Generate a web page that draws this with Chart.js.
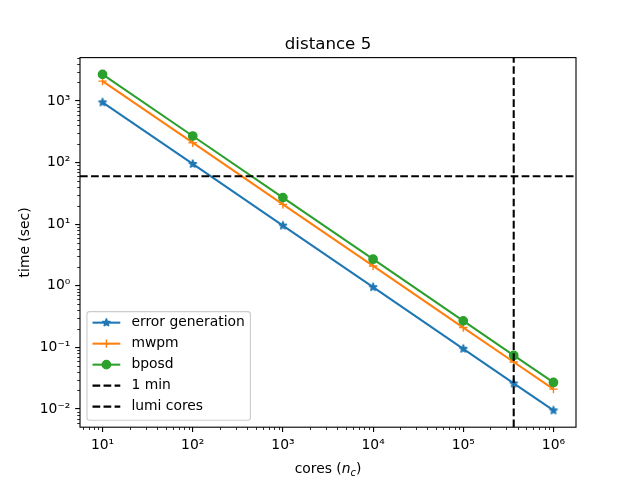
<!DOCTYPE html>
<html lang="en">
<head>
<meta charset="UTF-8">
<title>distance 5</title>
<script src="https://cdn.jsdelivr.net/npm/chart.js"></script>
<style>
  body { margin: 0; background: #ffffff; }
  canvas { display: block; }
</style>
</head>
<body>
<canvas id="timing" width="640" height="480"></canvas>
<script>
// values
const cores = [10, 100, 1000, 10000, 100000, 362496, 1000000];
const errorGeneration = [950, 95, 9.5, 0.95, 0.095, 0.026, 0.0095];
const mwpm = [2100, 210, 21, 2.1, 0.21, 0.058, 0.021];
const bposd = [2700, 270, 27, 2.7, 0.27, 0.074, 0.027];
const oneMinute = 60;
const lumiCores = 362496;
const xTicks = [1e1, 1e2, 1e3, 1e4, 1e5, 1e6];
const yTicks = [1e-2, 1e-1, 1e0, 1e1, 1e2, 1e3];

const BLUE = '#1f77b4', ORANGE = '#ff7f0e', GREEN = '#2ca02c';
const FONT = 'DejaVu Sans';
const PT = 100 / 72;

// matplotlib style 5% margins in log space
function logLimits(values) {
  const lo = Math.log10(Math.min(...values));
  const hi = Math.log10(Math.max(...values));
  const pad = 0.05 * (hi - lo);
  return [Math.pow(10, lo - pad), Math.pow(10, hi + pad)];
}
const [X_MIN, X_MAX] = logLimits(cores);
const [Y_MIN, Y_MAX] = logLimits(errorGeneration.concat(mwpm, bposd));

const SUP = { '-': '\u207b', '0': '\u2070', '1': '\u00b9', '2': '\u00b2', '3': '\u00b3',
  '4': '\u2074', '5': '\u2075', '6': '\u2076', '7': '\u2077', '8': '\u2078', '9': '\u2079' };
function powerLabel(v) {
  const e = Math.round(Math.log10(v));
  return '10' + String(e).split('').map(c => SUP[c]).join('');
}

function starPath(ctx, x, y, r) {
  const inner = r * 0.381966;
  ctx.beginPath();
  for (let i = 0; i < 10; i++) {
    const rr = i % 2 === 0 ? r : inner;
    const a = -Math.PI / 2 + i * Math.PI / 5;
    const px = x + rr * Math.cos(a), py = y + rr * Math.sin(a);
    if (i === 0) ctx.moveTo(px, py); else ctx.lineTo(px, py);
  }
  ctx.closePath();
}

function drawMarker(ctx, kind, x, y, color) {
  const r = 3 * PT;
  ctx.save();
  ctx.fillStyle = color;
  ctx.strokeStyle = color;
  ctx.lineWidth = PT;
  if (kind === 'star') {
    ctx.lineJoin = 'bevel';
    starPath(ctx, x, y, r);
    ctx.fill();
    ctx.stroke();
  } else if (kind === 'cross') {
    ctx.beginPath();
    ctx.moveTo(x - r, y); ctx.lineTo(x + r, y);
    ctx.moveTo(x, y - r); ctx.lineTo(x, y + r);
    ctx.stroke();
  } else if (kind === 'circle') {
    ctx.beginPath();
    ctx.arc(x, y, r, 0, Math.PI * 2);
    ctx.fill();
    ctx.stroke();
  }
  ctx.restore();
}

// filled star used as point style
const starImg = document.createElement('canvas');
starImg.width = 14;
starImg.height = 14;
drawMarker(starImg.getContext('2d'), 'star', 7, 7, BLUE);

const legendItems = [
  { label: 'error generation', color: BLUE, marker: 'star', dash: false },
  { label: 'mwpm', color: ORANGE, marker: 'cross', dash: false },
  { label: 'bposd', color: GREEN, marker: 'circle', dash: false },
  { label: '1 min', color: '#000', marker: null, dash: true },
  { label: 'lumi cores', color: '#000', marker: null, dash: true }
];

function series(label, values, color, pointStyle, order) {
  return {
    label: label,
    data: cores.map((c, i) => ({ x: c, y: values[i] })),
    borderColor: color,
    backgroundColor: color,
    borderWidth: 1.5 * PT,
    pointStyle: pointStyle,
    pointRadius: 3 * PT,
    pointBorderWidth: PT,
    pointBackgroundColor: color,
    pointBorderColor: color,
    fill: false,
    tension: 0,
    order: order
  };
}

function refLine(label, points, order) {
  return {
    label: label,
    data: points,
    borderColor: '#000',
    borderWidth: 1.5 * PT,
    borderDash: [5.55 * PT, 2.4 * PT],
    pointRadius: 0,
    fill: false,
    order: order
  };
}

const decorations = {
  id: 'decorations',
  afterDraw(chart) {
    const ctx = chart.ctx;
    const area = chart.chartArea;
    const xs = chart.scales.x, ys = chart.scales.y;

    // minor ticks
    ctx.save();
    ctx.strokeStyle = '#000';
    ctx.lineWidth = 0.6 * PT;
    ctx.beginPath();
    for (let d = Math.floor(Math.log10(X_MIN)); d <= Math.ceil(Math.log10(X_MAX)); d++) {
      for (let k = 2; k <= 9; k++) {
        const v = k * Math.pow(10, d);
        if (v < X_MIN || v > X_MAX) continue;
        const px = Math.round(xs.getPixelForValue(v)) + 0.5;
        ctx.moveTo(px, area.bottom);
        ctx.lineTo(px, area.bottom + 2 * PT);
      }
    }
    for (let d = Math.floor(Math.log10(Y_MIN)); d <= Math.ceil(Math.log10(Y_MAX)); d++) {
      for (let k = 2; k <= 9; k++) {
        const v = k * Math.pow(10, d);
        if (v < Y_MIN || v > Y_MAX) continue;
        const py = Math.round(ys.getPixelForValue(v)) + 0.5;
        ctx.moveTo(area.left, py);
        ctx.lineTo(area.left - 2 * PT, py);
      }
    }
    ctx.stroke();

    // frame
    ctx.lineWidth = 0.8 * PT;
    ctx.strokeRect(area.left, area.top, area.right - area.left, area.bottom - area.top);
    ctx.restore();

    // legend
    const fs = 10 * PT;
    ctx.save();
    ctx.font = fs + 'px "' + FONT + '"';
    const textW = Math.max(...legendItems.map(it => ctx.measureText(it.label).width));
    const lx = area.left + 0.5 * fs, lh = 108.6;
    const ly = area.bottom - 0.5 * fs - lh;
    const lw = 0.4 * fs * 2 + 2 * fs + 0.8 * fs + textW;
    ctx.beginPath();
    ctx.roundRect(lx, ly, lw, lh, 0.2 * fs);
    ctx.fillStyle = 'rgba(255,255,255,0.8)';
    ctx.fill();
    ctx.strokeStyle = '#cccccc';
    ctx.lineWidth = 0.8 * PT;
    ctx.stroke();
    legendItems.forEach((it, i) => {
      const cy = ly + 11 + i * 21;
      const hx0 = lx + 0.4 * fs, hx1 = hx0 + 2 * fs;
      ctx.save();
      ctx.strokeStyle = it.color;
      ctx.lineWidth = 1.5 * PT;
      if (it.dash) ctx.setLineDash([5.55 * PT, 2.4 * PT]);
      ctx.beginPath();
      ctx.moveTo(hx0, cy);
      ctx.lineTo(hx1, cy);
      ctx.stroke();
      ctx.restore();
      if (it.marker) drawMarker(ctx, it.marker, (hx0 + hx1) / 2, cy, it.color);
      ctx.fillStyle = '#000';
      ctx.textBaseline = 'middle';
      ctx.textAlign = 'left';
      ctx.fillText(it.label, hx1 + 0.8 * fs, cy);
    });
    ctx.restore();

    // title and axis labels
    ctx.save();
    ctx.fillStyle = '#000';
    ctx.textBaseline = 'alphabetic';
    ctx.textAlign = 'center';
    const midX = (area.left + area.right) / 2;
    ctx.font = (12 * PT) + 'px "' + FONT + '"';
    ctx.fillText('distance 5', midX, area.top - 6 * PT - 0.3);

    ctx.save();
    ctx.font = fs + 'px "' + FONT + '"';
    ctx.translate(28.5, (area.top + area.bottom) / 2);
    ctx.rotate(-Math.PI / 2);
    ctx.fillText('time (sec)', 0, 0);
    ctx.restore();

    // "cores (n_c)" with italic n and subscript c
    const normal = fs + 'px "' + FONT + '"';
    const italic = 'italic ' + fs + 'px "' + FONT + '"';
    const sub = 'italic ' + (fs * 0.7) + 'px "' + FONT + '"';
    const parts = [
      { t: 'cores (', f: normal, dy: 0 },
      { t: 'n', f: italic, dy: 0 },
      { t: 'c', f: sub, dy: 2.2 },
      { t: ')', f: normal, dy: 0 }
    ];
    let total = 0;
    parts.forEach(p => { ctx.font = p.f; p.w = ctx.measureText(p.t).width; total += p.w; });
    let cx = midX - total / 2;
    const base = 473.3;
    ctx.textAlign = 'left';
    parts.forEach(p => {
      ctx.font = p.f;
      ctx.fillText(p.t, cx, base + p.dy);
      cx += p.w;
    });
    ctx.restore();
  }
};

Chart.defaults.font.family = FONT;
Chart.defaults.font.size = 10 * PT;
Chart.defaults.color = '#000';

new Chart(document.getElementById('timing').getContext('2d'), {
  type: 'line',
  data: {
    datasets: [
      series('error generation', errorGeneration, BLUE, starImg, 4),
      series('mwpm', mwpm, ORANGE, 'cross', 3),
      series('bposd', bposd, GREEN, 'circle', 2),
      refLine('1 min', [{ x: X_MIN, y: oneMinute }, { x: X_MAX, y: oneMinute }], 1),
      refLine('lumi cores', [{ x: lumiCores, y: Y_MIN }, { x: lumiCores, y: Y_MAX }], 0)
    ]
  },
  options: {
    responsive: false,
    animation: false,
    events: [],
    layout: { padding: { top: 57.6, right: 64, bottom: 0, left: 0 } },
    plugins: {
      legend: { display: false },
      tooltip: { enabled: false },
      title: { display: false }
    },
    scales: {
      x: {
        type: 'logarithmic',
        position: 'bottom',
        min: X_MIN,
        max: X_MAX,
        bounds: 'data',
        afterBuildTicks: s => { s.ticks = xTicks.map(v => ({ value: v })); },
        afterFit: s => { s.height = 52.8; },
        grid: { display: true, drawOnChartArea: false, drawTicks: true, tickLength: 3.5 * PT, color: '#000', lineWidth: 0.8 * PT },
        border: { display: false },
        ticks: { autoSkip: false, maxRotation: 0, padding: 3.5 * PT, callback: v => powerLabel(v) }
      },
      y: {
        type: 'logarithmic',
        position: 'left',
        min: Y_MIN,
        max: Y_MAX,
        bounds: 'data',
        afterBuildTicks: s => { s.ticks = yTicks.map(v => ({ value: v })); },
        afterFit: s => { s.width = 80; },
        grid: { display: true, drawOnChartArea: false, drawTicks: true, tickLength: 3.5 * PT, color: '#000', lineWidth: 0.8 * PT },
        border: { display: false },
        ticks: { autoSkip: false, padding: 3.5 * PT, callback: v => powerLabel(v) }
      }
    }
  },
  plugins: [decorations]
});
</script>
</body>
</html>
